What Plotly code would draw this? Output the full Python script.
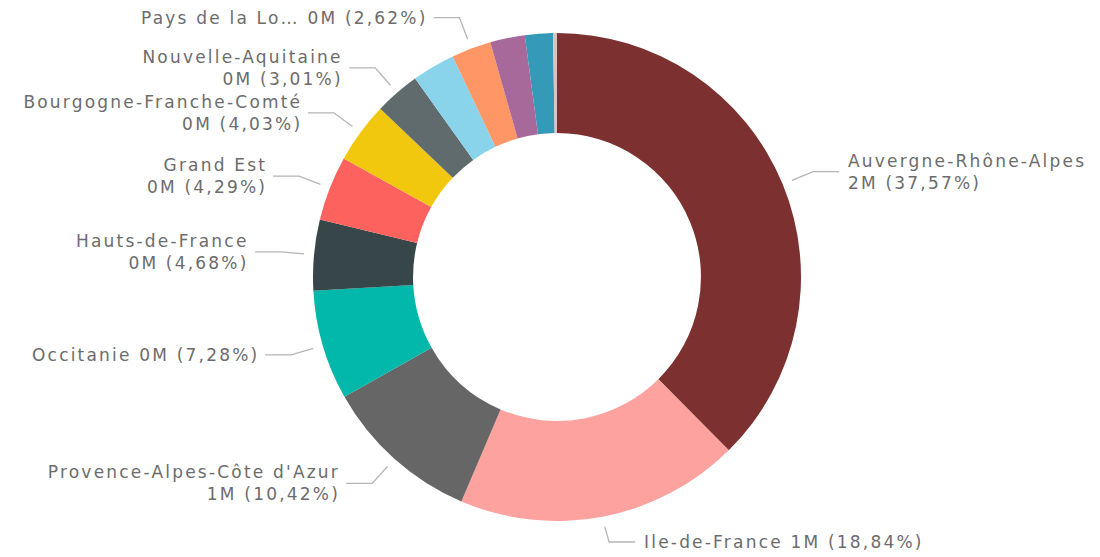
import math
import plotly.graph_objects as go

# ---- data ----
regions = ["Auvergne-Rhône-Alpes", "Ile-de-France", "Provence-Alpes-Côte d'Azur",
           "Occitanie", "Hauts-de-France", "Grand Est", "Bourgogne-Franche-Comté",
           "Nouvelle-Aquitaine", "Normandie", "Pays de la Loire", "Bretagne",
           "Centre-Val de Loire", "Corse"]
shares_pct = [37.57, 18.84, 10.42, 7.28, 4.68, 4.29, 4.03, 3.01, 2.85, 2.62, 2.30, 1.85, 0.26]
total_estimate = 5.5e6
display_names = ["Auvergne-Rhône-Alpes", "Ile-de-France", "Provence-Alpes-Côte d'Azur",
                 "Occitanie", "Hauts-de-France", "Grand Est", "Bourgogne-Franche-Comté",
                 "Nouvelle-Aquitaine", None, "Pays de la Lo…", None, None, None]
one_line_labels = {"Ile-de-France", "Occitanie", "Pays de la Loire"}

colors = ["#7D3030", "#FDA29F", "#666666", "#01B8AA", "#374649", "#FD625E", "#F2C80F",
          "#5F6B6D", "#8AD4EB", "#FE9666", "#A66999", "#3599B8", "#DFBFBF"]

values = [s * total_estimate / 100 for s in shares_pct]

# ---- geometry ----
W, H = 1100, 557
cx, cy, R = 557, 277, 244
hole = 0.59
START, ELBOW, HLEN = 10, 33, 26
GAP_R, GAP_L = 7, 4
EDGE = 15

fig = go.Figure()
fig.add_trace(go.Pie(
    labels=regions, values=values, sort=False, direction="clockwise", rotation=0,
    hole=hole, marker=dict(colors=colors, line=dict(width=0)),
    textinfo="none", showlegend=False,
    domain=dict(x=[(cx - R) / W, (cx + R) / W], y=[(H - cy - R) / H, (H - cy + R) / H]),
))

total = sum(values)
cum = 0.0
lx, ly = [], []
annotations = []
for name, v, disp, pct in zip(regions, values, display_names, shares_pct):
    mid = (cum + v / 2) / total * 2 * math.pi
    cum += v
    if disp is None:
        continue
    s, c = math.sin(mid), math.cos(mid)
    x0, y0 = cx + (R + START) * s, cy - (R + START) * c
    x1, y1 = cx + (R + ELBOW) * s, cy - (R + ELBOW) * c
    y1 = max(min(y1, H - EDGE), EDGE)
    right = s >= 0
    x2 = x1 + HLEN if right else x1 - HLEN
    lx += [x0, x1, x2, None]
    ly += [y0, y1, y1, None]
    val_txt = f"{round(v / 1e6)}M ({pct:.2f}%)".replace(".", ",")
    sep = " " if name in one_line_labels else "<br>"
    annotations.append(dict(
        x=x2 + (GAP_R if right else -GAP_L), y=y1, xref="x", yref="y",
        text=f"{disp}{sep}{val_txt}", showarrow=False,
        xanchor="left" if right else "right", yanchor="middle",
        align="left" if right else "right",
        font=dict(family="DejaVu Sans", size=17, color="#6c6c6c"),
    ))

fig.add_trace(go.Scatter(x=lx, y=ly, mode="lines", line=dict(color="#B5B5B5", width=1.3),
                         hoverinfo="skip", showlegend=False))

fig.update_layout(
    width=W, height=H, margin=dict(l=0, r=0, t=0, b=0),
    paper_bgcolor="white", plot_bgcolor="white",
    xaxis=dict(range=[0, W], visible=False, fixedrange=True),
    yaxis=dict(range=[H, 0], visible=False, fixedrange=True),
    annotations=annotations,
)

post = """
var st = document.createElement('style');
st.textContent = 'body{margin:0;} .annotation-text{letter-spacing:2.2px;}';
document.head.appendChild(st);
var gd = document.getElementById('{plot_id}');
Plotly.newPlot(gd, gd.data, gd.layout, {displayModeBar: false});
"""

fig.write_html("out.html", config={"displayModeBar": False}, post_script=post)
